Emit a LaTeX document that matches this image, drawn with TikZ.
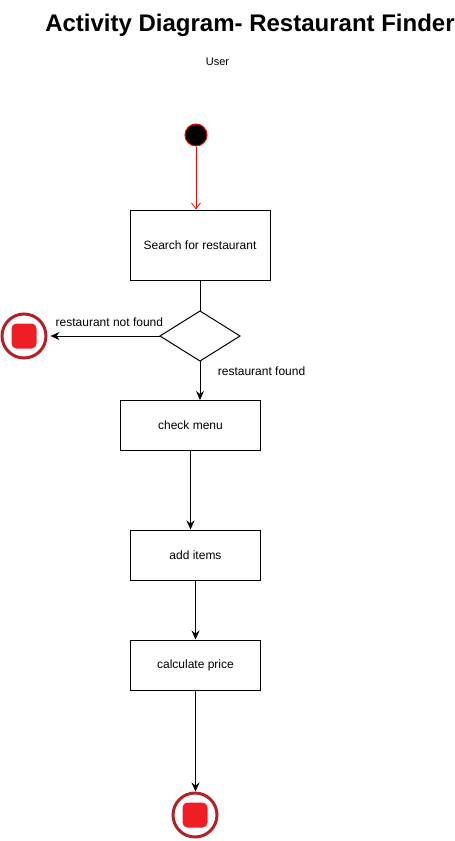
\documentclass[tikz,border=0pt]{standalone}
\usepackage{fontspec}
\setmainfont{Liberation Sans}
\usetikzlibrary{arrows.meta,shapes.geometric}

\definecolor{ringred}{RGB}{180,32,38}
\definecolor{stopred}{RGB}{238,30,36}

\begin{document}
\begin{tikzpicture}[x=1pt,y=-1pt,
    actbox/.style={draw,line width=1pt,inner sep=0pt,font=\fontsize{12}{14}\selectfont},
    decide/.style={draw,diamond,line width=1pt,inner sep=0pt,outer sep=0pt,minimum width=80pt,minimum height=50pt},
    flow/.style={line width=1pt,-{Stealth[length=9pt,width=8pt,inset=3pt]}},
    guard/.style={font=\fontsize{12}{14}\selectfont},
    stopnode/.style={circle,draw=ringred,line width=3pt,minimum size=44pt,inner sep=0pt,
      path picture={\fill[stopred,rounded corners=5pt] ([shift={(-12.5pt,-12.5pt)}]path picture bounding box.center) rectangle ++(25pt,25pt);}}]
  \useasboundingbox (0,0) rectangle (455,841);

  % title and swimlane label
  \node[anchor=base,font=\fontsize{24}{28}\selectfont\bfseries] (title) at (250,31) {Activity Diagram- Restaurant Finder};
  \node[anchor=base,font=\fontsize{11}{13}\selectfont] (user) at (217.5,65) {User};

  % activity nodes
  \node[circle,fill=black,draw=red,line width=1pt,minimum size=22pt,inner sep=0pt] (start) at (196,135) {};
  \node[actbox,minimum width=140pt,minimum height=70pt] (search) at (200,245) {Search for restaurant};
  \node[decide] (found) at (200,336) {};
  \node[stopnode] (stopA) at (24,336) {};
  \node[actbox,minimum width=140pt,minimum height=50pt] (menu) at (190.5,425.5) {check menu};
  \node[actbox,minimum width=130pt,minimum height=50pt] (items) at (195.5,555) {add items};
  \node[actbox,minimum width=130pt,minimum height=50pt] (price) at (195.5,665) {calculate price};
  \node[stopnode] (stopB) at (195,815) {};

  % connectors
  \draw[red,line width=0.8pt,-{Straight Barb[length=6pt,width=9pt]}] (start) -- (start |- search.north);
  \draw[line width=1pt] (search.south) -- (found.north);
  \draw[flow,shorten >=3pt] (found.west) -- (stopA) node[guard,pos=0.45,above=6pt] {restaurant not found};
  \draw[flow] (found.south) -- (found.south |- menu.north) node[guard,pos=0.25,right=14pt] {restaurant found};
  \draw[flow] (menu.south) -- (menu.south |- items.north);
  \draw[flow] (items.south) -- (items.south |- price.north);
  \draw[flow] (price.south) -- (price.south |- stopB.north);
\end{tikzpicture}
\end{document}
